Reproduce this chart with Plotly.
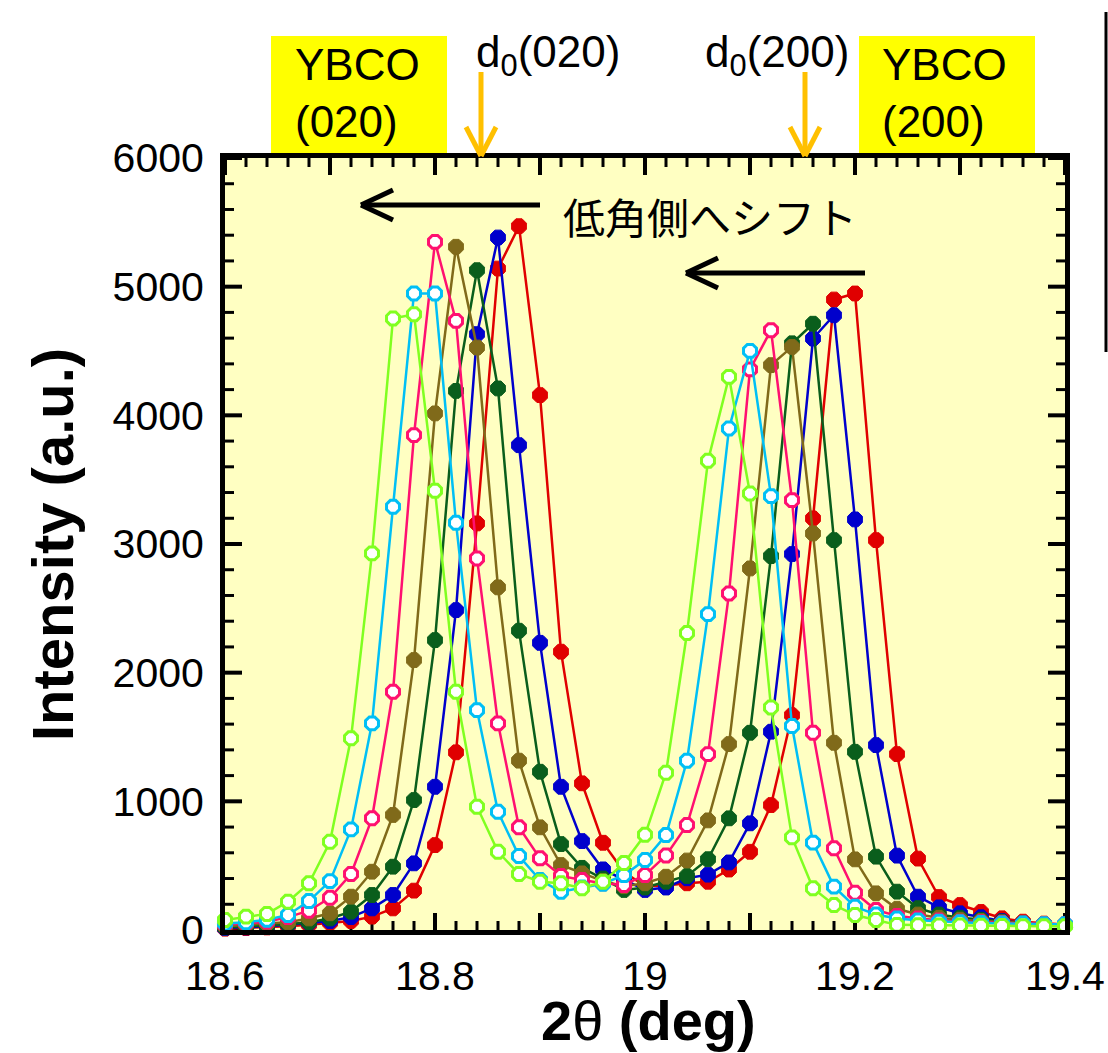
import plotly.graph_objects as go

# ---------------- data ----------------
two_theta = [18.60, 18.62, 18.64, 18.66, 18.68, 18.70, 18.72, 18.74, 18.76, 18.78,
             18.80, 18.82, 18.84, 18.86, 18.88, 18.90, 18.92, 18.94, 18.96, 18.98,
             19.00, 19.02, 19.04, 19.06, 19.08, 19.10, 19.12, 19.14, 19.16, 19.18,
             19.20, 19.22, 19.24, 19.26, 19.28, 19.30, 19.32, 19.34, 19.36, 19.38,
             19.40]

s_red = [10, 15, 20, 30, 40, 55, 70, 104, 168, 306,
         660, 1381, 3160, 5141, 5470, 4157, 2163, 1140, 678, 450,
         340, 345, 363, 375, 470, 608, 971, 1670, 3199, 4900,
         4947, 3030, 1367, 555, 256, 194, 140, 91, 65, 50,
         40]
s_blue = [15, 20, 30, 40, 55, 70, 100, 168, 272, 518,
          1113, 2486, 4631, 5382, 3768, 2232, 1113, 691, 471, 390,
          311, 330, 402, 430, 525, 829, 1541, 2922, 4597, 4778,
          3191, 1437, 578, 259, 176, 130, 99, 70, 55, 45,
          40]
s_dgreen = [20, 25, 35, 45, 60, 90, 142, 272, 492, 1010,
            2253, 4190, 5128, 4209, 2326, 1230, 668, 483, 400, 311,
            330, 375, 420, 550, 868, 1533, 2906, 4560, 4712, 3030,
            1385, 570, 298, 170, 120, 95, 80, 65, 55, 45,
            40]
s_olive = [30, 40, 50, 60, 90, 130, 259, 453, 894, 2098,
           4015, 5310, 4527, 2663, 1316, 798, 505, 440, 380, 340,
           363, 414, 540, 852, 1445, 2810, 4390, 4532, 3082, 1455,
           549, 285, 165, 120, 95, 80, 70, 60, 50, 45,
           40]
s_pink = [40, 50, 65, 100, 150, 250, 435, 868, 1852, 3846,
          5348, 4734, 2888, 1606, 798, 557, 420, 388, 363, 350,
          427, 579, 816, 1367, 2616, 4357, 4662, 3341, 1533, 635,
          290, 155, 110, 90, 75, 65, 60, 55, 50, 45,
          45]
s_cyan = [50, 60, 80, 117, 225, 380, 782, 1606, 3289, 4947,
          4947, 3165, 1709, 919, 575, 388, 298, 330, 360, 427,
          544, 738, 1316, 2455, 3898, 4501, 3372, 1585, 679, 337,
          181, 120, 90, 75, 65, 60, 55, 50, 50, 45,
          45]
s_lime = [78, 104, 125, 220, 363, 686, 1490, 2927, 4753, 4786,
          3414, 1852, 958, 608, 435, 375, 363, 324, 375, 520,
          740, 1222, 2308, 3647, 4299, 3393, 1730, 720, 324, 194,
          117, 78, 40, 38, 36, 35, 33, 32, 30, 30,
          30]

series_values = [s_red, s_blue, s_dgreen, s_olive, s_pink, s_cyan, s_lime]
series_colors = ["#E00000", "#0000CC", "#0A5E1C", "#806A1A", "#FF1070", "#00BFF5", "#80FF20"]
series_filled = [True, True, True, True, False, False, False]

# axis tick positions (major every 0.1 / 1000, minor every 0.02 / 200)
x_major_ticks = [18.6, 18.7, 18.8, 18.9, 19.0, 19.1, 19.2, 19.3, 19.4]
y_major_ticks = [0, 1000, 2000, 3000, 4000, 5000, 6000]
x_hidden_labels = ["18.7", "18.9", "19.1", "19.3"]

X_RANGE = [18.6, 19.4]
Y_RANGE = [0, 6000]

L, R, T, B = 225, 1065, 158, 930
W_PLOT, H_PLOT = R - L, B - T

fig = go.Figure()

# ---- inside, mirrored frame ticks (built from the tick lists) ----
MAJ_LEN, MIN_LEN = 17, 9
x_all_ticks = [round(X_RANGE[0] + 0.02 * i, 2) for i in range(41)]
y_all_ticks = [200 * i for i in range(31)]
tick_segs = {True: ([], []), False: ([], [])}
for xv in x_all_ticks:
    major = any(abs(xv - m) < 1e-6 for m in x_major_ticks)
    dy = (MAJ_LEN if major else MIN_LEN) * (Y_RANGE[1] - Y_RANGE[0]) / H_PLOT
    xs, ys = tick_segs[major]
    xs += [xv, xv, None, xv, xv, None]
    ys += [Y_RANGE[0], Y_RANGE[0] + dy, None, Y_RANGE[1], Y_RANGE[1] - dy, None]
for yv in y_all_ticks:
    major = yv in y_major_ticks
    dx = (MAJ_LEN if major else MIN_LEN) * (X_RANGE[1] - X_RANGE[0]) / W_PLOT
    xs, ys = tick_segs[major]
    xs += [X_RANGE[0], X_RANGE[0] + dx, None, X_RANGE[1], X_RANGE[1] - dx, None]
    ys += [yv, yv, None, yv, yv, None]
for major, (xs, ys) in tick_segs.items():
    fig.add_trace(go.Scatter(x=xs, y=ys, mode="lines",
                             line=dict(color="black", width=4 if major else 3),
                             hoverinfo="skip", showlegend=False, cliponaxis=False))

# ---- data series ----
for vals, col, filled in zip(series_values, series_colors, series_filled):
    fig.add_trace(go.Scatter(
        x=two_theta, y=vals, mode="lines+markers",
        line=dict(color=col, width=2.5),
        marker=dict(symbol="octagon",
                    size=16 if filled else 14,
                    color=col if filled else "white",
                    line=dict(color=col, width=1 if filled else 3)),
        cliponaxis=False, showlegend=False))


def px(xp):
    return (xp - L) / W_PLOT


def py(yp):
    return (B - yp) / H_PLOT


shapes = []
# yellow label boxes
for x0, x1 in [(271, 447), (859, 1035)]:
    shapes.append(dict(type="rect", xref="paper", yref="paper",
                       x0=px(x0), x1=px(x1), y0=py(157), y1=py(36),
                       fillcolor="#FFFF00", line=dict(width=0), layer="below"))

# orange d0 arrows
for xa in [481, 805]:
    for (a, b) in [((xa, 72), (xa, 156)), ((xa, 156), (xa - 15, 127)), ((xa, 156), (xa + 15, 127))]:
        shapes.append(dict(type="line", xref="paper", yref="paper",
                           x0=px(a[0]), y0=py(a[1]), x1=px(b[0]), y1=py(b[1]),
                           line=dict(color="#FFC000", width=5)))

# black shift arrows
for (xh, xt, yy) in [(361, 540, 205), (686, 865, 273)]:
    for (a, b) in [((xh, yy), (xt, yy)), ((xh, yy), (xh + 32, yy - 15)), ((xh, yy), (xh + 32, yy + 15))]:
        shapes.append(dict(type="line", xref="paper", yref="paper",
                           x0=px(a[0]), y0=py(a[1]), x1=px(b[0]), y1=py(b[1]),
                           line=dict(color="black", width=5)))

# edge of (cropped) legend frame
shapes.append(dict(type="line", xref="paper", yref="paper",
                   x0=px(1106), x1=px(1106), y0=py(12), y1=py(352),
                   line=dict(color="black", width=3)))

annotations = []
txt_font = dict(family="Liberation Sans, Arial", size=44, color="black")
annotations.append(dict(xref="paper", yref="paper", x=px(357), y=py(93),
                        text="YBCO<br>(020)", showarrow=False, align="left",
                        xanchor="center", yanchor="middle", font=txt_font))
annotations.append(dict(xref="paper", yref="paper", x=px(944), y=py(93),
                        text="YBCO<br>(200)", showarrow=False, align="left",
                        xanchor="center", yanchor="middle", font=txt_font))
annotations.append(dict(xref="paper", yref="paper", x=px(548), y=py(55),
                        text="d<sub>0</sub>(020)", showarrow=False,
                        xanchor="center", yanchor="middle", font=txt_font))
annotations.append(dict(xref="paper", yref="paper", x=px(777), y=py(55),
                        text="d<sub>0</sub>(200)", showarrow=False,
                        xanchor="center", yanchor="middle", font=txt_font))
annotations.append(dict(xref="paper", yref="paper", x=px(710), y=py(215),
                        text="低角側へシフト", showarrow=False,
                        xanchor="center", yanchor="middle",
                        font=dict(family="Noto Sans CJK JP", size=42, color="black")))
annotations.append(dict(xref="paper", yref="paper", x=px(648), y=py(1020),
                        text="<b>2</b>θ<b> (deg)</b>", showarrow=False,
                        xanchor="center", yanchor="middle",
                        font=dict(family="Liberation Sans, Arial", size=56, color="black")))
annotations.append(dict(xref="paper", yref="paper", x=px(52), y=py(545),
                        text="<b>Intensity (a.u.)</b>", showarrow=False, textangle=-90,
                        xanchor="center", yanchor="middle",
                        font=dict(family="Liberation Sans, Arial", size=58, color="black")))

ax_common = dict(ticks="", showline=True, linewidth=5, linecolor="black", mirror=True,
                 showgrid=False, zeroline=False,
                 tickfont=dict(size=41, family="Liberation Sans, Arial", color="black"))

fig.update_layout(
    width=1108, height=1053,
    margin=dict(l=L, r=1108 - R, t=T, b=1053 - B, autoexpand=False),
    plot_bgcolor="#FFFFC2",
    showlegend=False,
    shapes=shapes, annotations=annotations,
    xaxis=dict(range=X_RANGE, tickmode="array", tickvals=x_major_ticks,
               labelalias={k: "" for k in x_hidden_labels}, ticklabelstandoff=6,
               **ax_common),
    yaxis=dict(range=Y_RANGE, tickmode="array", tickvals=y_major_ticks,
               ticklabelstandoff=8, **ax_common),
)

fig.write_html("out.html")
